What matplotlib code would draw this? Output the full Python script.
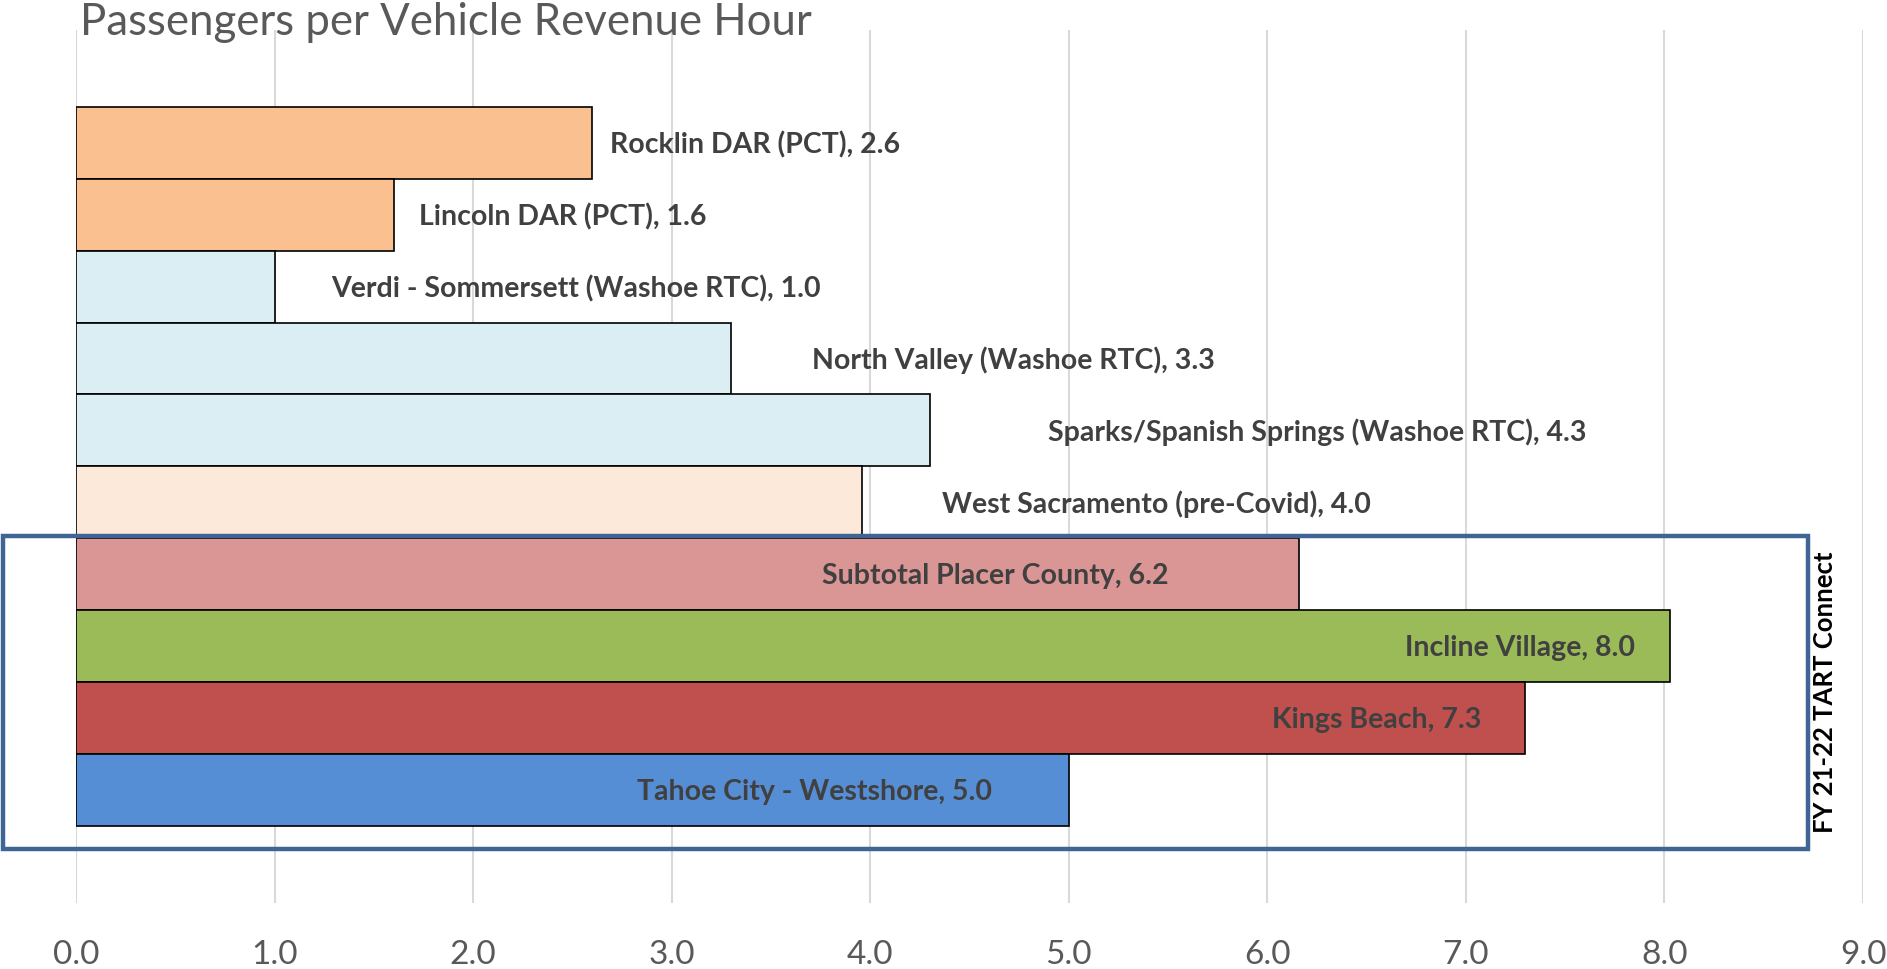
import matplotlib.pyplot as plt
from matplotlib.patches import Rectangle

###  Data (top to bottom)
names = ["Rocklin DAR (PCT)", "Lincoln DAR (PCT)", "Verdi - Sommersett (Washoe RTC)",
         "North Valley (Washoe RTC)", "Sparks/Spanish Springs (Washoe RTC)",
         "West Sacramento (pre-Covid)", "Subtotal Placer County", "Incline Village",
         "Kings Beach", "Tahoe City - Westshore"]
values = [2.6, 1.6, 1.0, 3.3, 4.3, 3.96, 6.16, 8.03, 7.3, 5.0]
colors = ["#FAC090", "#FAC090", "#DBEEF3", "#DBEEF3", "#DBEEF3", "#FDE9D9",
          "#D99694", "#9BBB59", "#C0504D", "#558ED5"]
label_x = [3.42, 2.45, 2.52, 4.72, 6.25, 5.44, 4.63, 7.27, 6.55, 3.72]
xticks = [0, 1, 2, 3, 4, 5, 6, 7, 8, 9]

plt.rcParams['font.family'] = ['Lato', 'DejaVu Sans']

fig = plt.figure(figsize=(18.87, 9.69), dpi=100)
ax = fig.add_axes([0.0403, 0.0682, 0.947, 0.901])

n = len(names)
ypos = [n - 1 - i for i in range(n)]
ax.barh(ypos, values, height=1.0, color=colors, edgecolor='black', linewidth=1.2, zorder=3)

for y, v, name, lx in zip(ypos, values, names, label_x):
    ax.text(lx, y - 0.03, f"{name}, {v:.1f}", ha='center', va='center',
            fontsize=20.5, fontweight='bold', color='#404040', zorder=5)

ax.set_xlim(0, 9)
ax.set_ylim(-1.57, 10.57)
ax.set_xticks(xticks)
ax.set_xticklabels([f"{t:.1f}" for t in xticks])
ax.set_yticks([])
ax.tick_params(axis='x', length=0, pad=27, labelsize=24, labelcolor='#595959')
ax.grid(axis='x', color='#D9D9D9', linewidth=1.5, zorder=0)
for s in ax.spines.values():
    s.set_visible(False)

# TART Connect box
box = Rectangle((-0.368, -0.82), 8.725 + 0.368, 3.53 + 0.82, fill=False,
                edgecolor='#3F6595', linewidth=3.2, clip_on=False, zorder=6)
ax.add_patch(box)
ax.text(8.81, 1.36, "FY 21-22 TART Connect", rotation=90, ha='center', va='center',
        fontsize=18.5, fontweight='bold', color='black', clip_on=False)

fig.text(80 / 1887, 1 - 2 / 969, "Passengers per Vehicle Revenue Hour", ha='left', va='top',
         fontsize=31.5, color='#595959', zorder=10)

fig.savefig("out.png", dpi=100)
